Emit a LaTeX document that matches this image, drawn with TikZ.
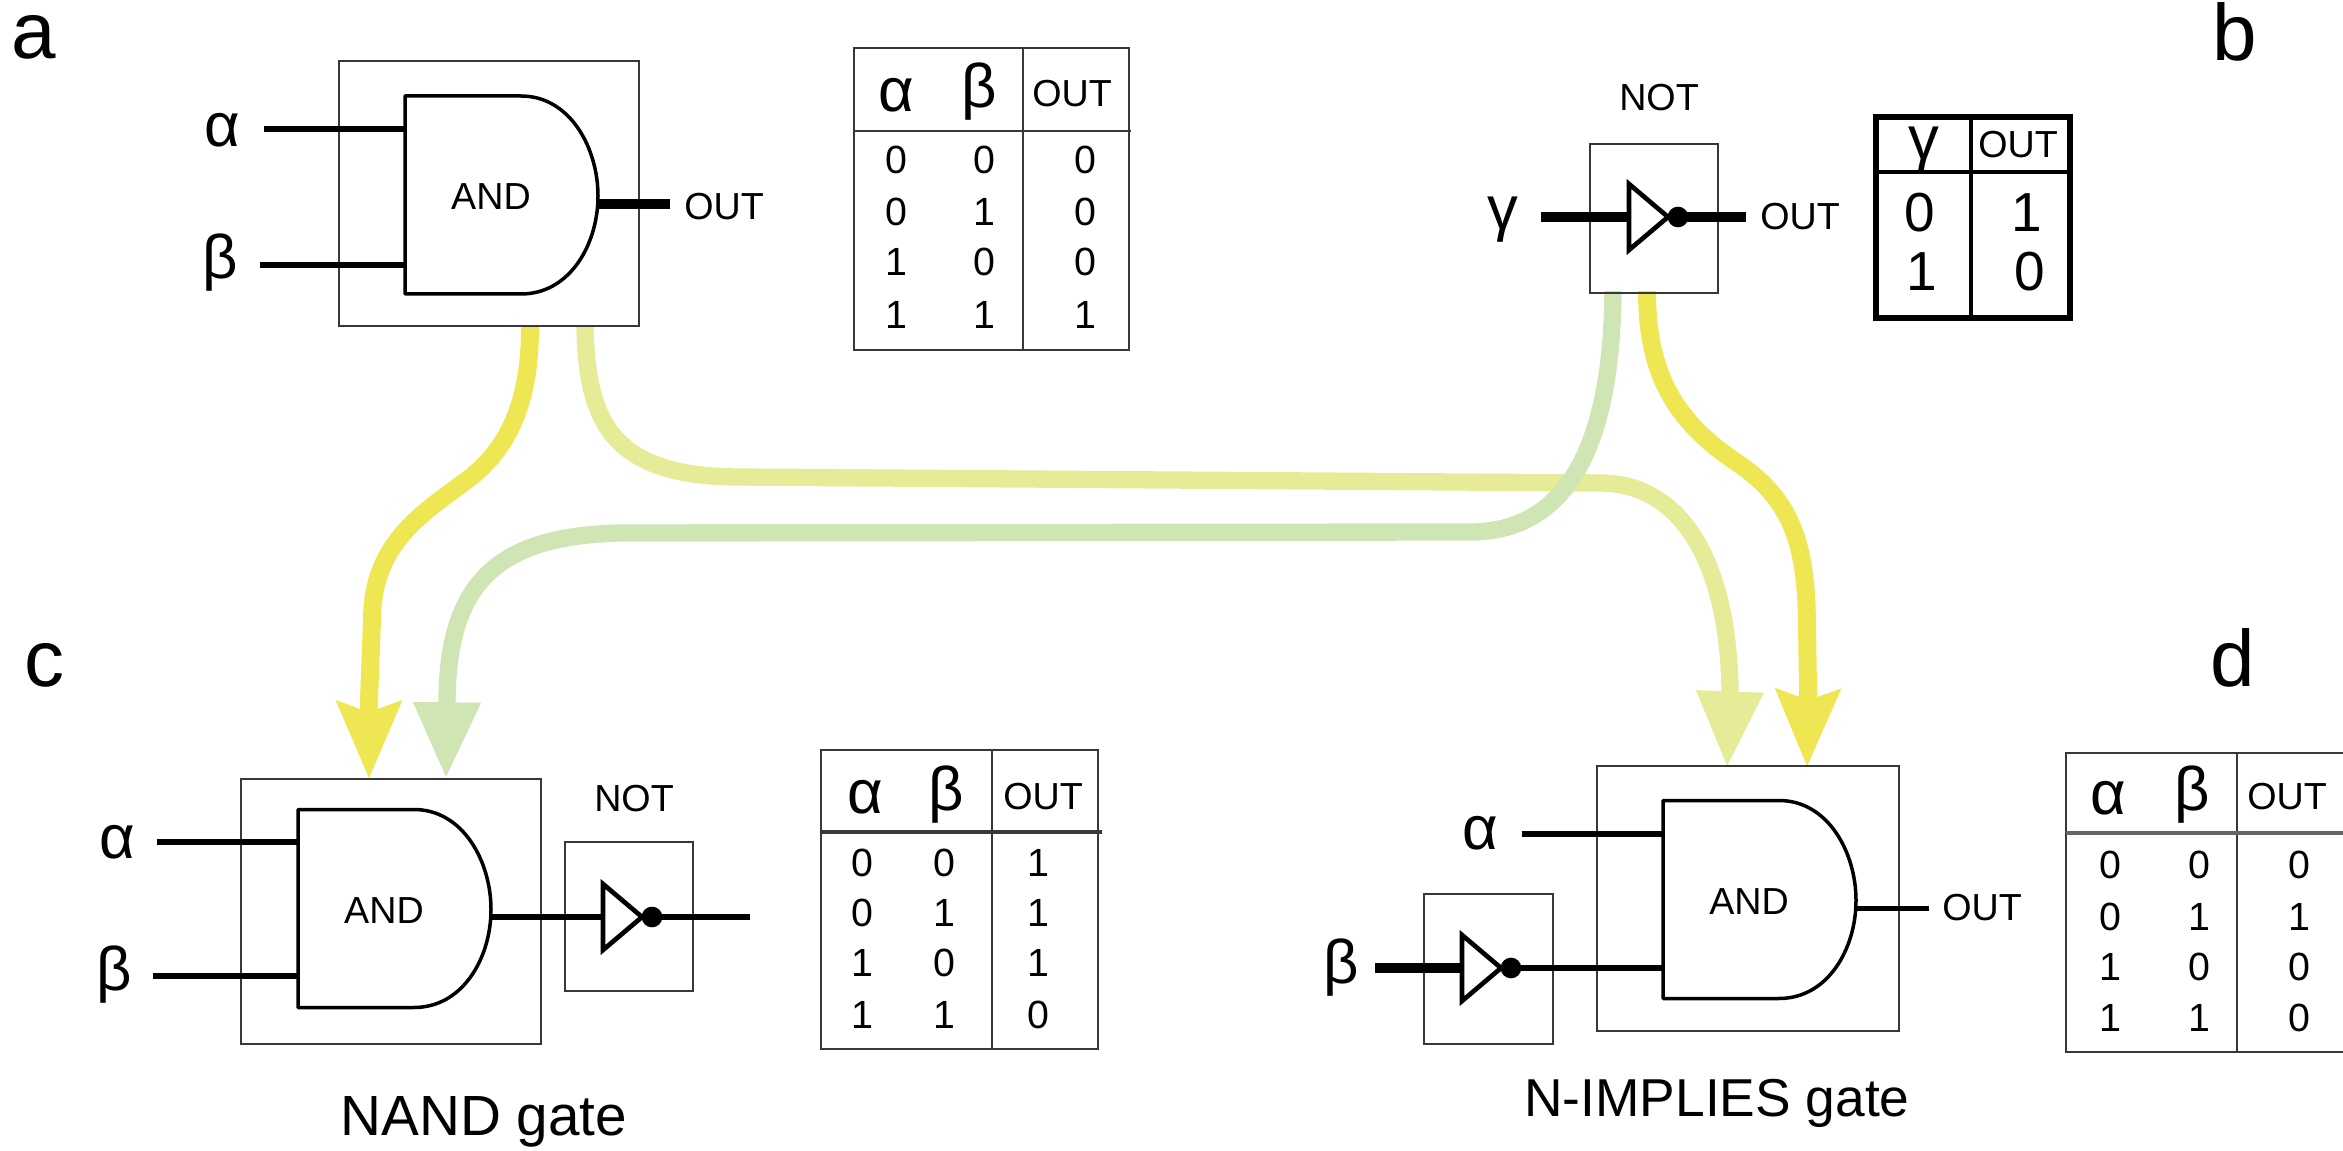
\documentclass[tikz,border=0pt]{standalone}
\usepackage{fontspec}
\setmainfont{Liberation Sans}
\usetikzlibrary{arrows.meta}
\definecolor{arrY}{HTML}{EFE654}
\definecolor{arrL}{HTML}{E5EB96}
\definecolor{arrG}{HTML}{CFE5B4}
\newcommand{\fs}[1]{\fontsize{#1}{#1}\selectfont}
\tikzset{
  boxline/.style={draw=black!78,line width=0.8pt},
  gatebox/.style={boxline,rectangle,inner sep=0pt,outer sep=0pt},
  gateline/.style={draw=black,line width=1.05pt,line join=round},
  notline/.style={draw=black,line width=1.4pt,line join=miter},
  wire/.style={draw=black,line width=2pt},
  heavywire/.style={draw=black,line width=2.8pt},
  thinwire/.style={draw=black,line width=1.6pt},
  ruleline/.style={boxline},
  tblb/.style={draw=black,line width=1.9pt},
  tblbin/.style={draw=black,line width=1.2pt},
  txt/.style={inner sep=0pt,outer sep=0pt},
  small/.style={txt,font=\fs{11.3}},
  greek/.style={txt,font=\fs{18.5}},
  digit/.style={txt,font=\fs{11.8}},
  bigdigit/.style={txt,font=\fs{16.5}},
  panel/.style={txt,font=\fs{24}},
  caption/.style={txt,font=\fs{#1}},
  arrowY/.style={draw=arrY,line width=5.4pt,-{Stealth[length=23pt,width=18.8pt,inset=3pt,color=arrY,fill=arrY]}},
  arrowL/.style={draw=arrL,line width=5.2pt,-{Triangle[length=23pt,width=18.8pt,color=arrL,fill=arrL]}},
  arrowG/.style={draw=arrG,line width=5.2pt,-{Triangle[length=23pt,width=18.8pt,color=arrG,fill=arrG]}},
  andgate/.pic={
    \draw[gateline] (0,-100) -- (116,-100) .. controls (165,-100) and (193,-48) .. (193,0)
      .. controls (193,48) and (165,98) .. (116,98) -- (0,98) -- cycle;
    \coordinate (-in1) at (0,-67);
    \coordinate (-in2) at (0,67);
    \coordinate (-out) at (192,8);
    \node[small] (-lbl) at (86,1) {AND};
  },
  notgate/.pic={
    \draw[notline] (0,-33) -- (39,0) -- (0,33) -- cycle;
    \fill[black] (49,0) circle[radius=3.1pt];
    \coordinate (-in) at (0,0);
    \coordinate (-out) at (49,0);
  },
}
\begin{document}
\begin{tikzpicture}[x=0.3pt,y=-0.3pt]
\useasboundingbox (0,0) rectangle (2343,1151);

% ---------- endpoints of the coloured connectors
\coordinate (sY1) at (530,327);
\coordinate (sL1) at (585,327);
\coordinate (sG1) at (1613,291);
\coordinate (sY2) at (1647,291);
\coordinate (tY1) at (369,779);
\coordinate (tG1) at (446,779);
\coordinate (tL1) at (1727,768);
\coordinate (tY2) at (1807,767);

% ---------- coloured connectors
\draw[arrowL] (sL1) .. controls (587,420) and (610,476) .. (737,477)
   -- (1600,483) .. controls (1680,483) and (1728,560) .. (1730,690) -- (tL1);
\draw[arrowY] (sY1) .. controls (530,400) and (510,450) .. (463,483)
   .. controls (420,515) and (372,545) .. (372,620) -- (369,700) -- (tY1);
\draw[arrowG] (sG1) .. controls (1612,400) and (1590,532) .. (1470,532)
   -- (620,533) .. controls (500,536) and (448,580) .. (447,700) -- (tG1);
\draw[arrowY] (sY2) .. controls (1647,370) and (1672,418) .. (1733,460)
   .. controls (1790,497) and (1806,540) .. (1807,623) -- (1808,690) -- (tY2);

% ---------- panel a
\node[gatebox,minimum width=90pt,minimum height=79.5pt] (boxA) at (489,193.5) {};
\pic (gA) at (405,196) {andgate};
\coordinate (inA1) at (264,129);
\coordinate (inA2) at (260,265);
\coordinate (outA) at (670,204);
\draw[wire] (inA1) -- (gA-in1 |- inA1);
\draw[wire] (inA2) -- (gA-in2 |- inA2);
\draw[heavywire] (gA-out) -- (gA-out -| outA);
\node[greek] (lA1) at (222,130) {α};
\node[greek] (lA2) at (220,263) {β};
\node[small] (lAo) at (724,207) {OUT};
\node[panel] (pa) at (34,37) {a};

\node[gatebox,minimum width=82.5pt,minimum height=90.6pt] (tblA) at (991.5,199) {};
\draw[ruleline] (1023,48) -- (1023,350);
\draw[ruleline] (854,131) -- (1131,131);
\node[greek] (tAa) at (896,95) {α};
\node[greek] (tAb) at (979,92) {β};
\node[small] (tAo) at (1072,94) {OUT};
\foreach \yy/\p/\q/\r [count=\i] in {160/0/0/0,212/0/1/0,262/1/0/0,315/1/1/1}{
  \node[digit] (tA\i a) at (896,\yy) {\p};
  \node[digit] (tA\i b) at (984,\yy) {\q};
  \node[digit] (tA\i c) at (1085,\yy) {\r};
}

% ---------- panel b
\node[gatebox,minimum width=38.4pt,minimum height=44.7pt] (boxB) at (1654,218.5) {};
\pic (nB) at (1629,217) {notgate};
\coordinate (inB) at (1541,217);
\coordinate (outB) at (1746,217);
\draw[heavywire] (inB) -- (nB-in);
\draw[heavywire] (nB-out) -- (outB);
\node[small] (lBn) at (1659,98) {NOT};
\node[greek] (lBg) at (1503,220) {γ};
\node[small] (lBo) at (1800,217) {OUT};
\node[panel] (pb) at (2235,32) {b};

\draw[tblb] (1876,117) rectangle (2070,318);
\draw[tblbin] (1971,117) -- (1971,318);
\draw[tblbin] (1876,172) -- (2070,172);
\node[greek] (tBg) at (1924,150) {γ};
\node[small] (tBo) at (2018,145) {OUT};
\node[bigdigit] (tB1a) at (1920,213) {0};
\node[bigdigit] (tB1b) at (2027,213) {1};
\node[bigdigit] (tB2a) at (1922,272) {1};
\node[bigdigit] (tB2b) at (2030,272) {0};

% ---------- panel c
\node[gatebox,minimum width=90pt,minimum height=79.5pt] (boxC) at (391,911.5) {};
\node[gatebox,minimum width=38.4pt,minimum height=44.7pt] (boxCn) at (629,916.5) {};
\pic (gC) at (298,909.5) {andgate};
\pic (nC) at (603,917) {notgate};
\coordinate (inC1) at (157,842);
\coordinate (inC2) at (153,976);
\coordinate (outC) at (750,917);
\draw[wire] (inC1) -- (gC-in1 |- inC1);
\draw[wire] (inC2) -- (gC-in2 |- inC2);
\draw[wire] (nC-in -| gC-out) -- (nC-in);
\draw[wire] (nC-out) -- (outC);
\node[greek] (lC1) at (117,842) {α};
\node[greek] (lC2) at (114,975) {β};
\node[small] (lCn) at (634,799) {NOT};
\node[panel] (pc) at (45,665) {c};
\node[caption=17] (capC) at (484,1122) {NAND gate};

\node[gatebox,minimum width=83.1pt,minimum height=89.7pt] (tblC) at (959.5,899.5) {};
\draw[ruleline] (992,750) -- (992,1049);
\draw[line width=1.1pt,draw=black!78] (821,832) -- (1102,832);
\node[greek] (tCa) at (865,797) {α};
\node[greek] (tCb) at (946,795) {β};
\node[small] (tCo) at (1043,797) {OUT};
\foreach \yy/\p/\q/\r [count=\i] in {863/0/0/1,913/0/1/1,963/1/0/1,1015/1/1/0}{
  \node[digit] (tC\i a) at (862,\yy) {\p};
  \node[digit] (tC\i b) at (944,\yy) {\q};
  \node[digit] (tC\i c) at (1038,\yy) {\r};
}

% ---------- panel d
\node[gatebox,minimum width=90.6pt,minimum height=79.5pt] (boxD) at (1748,898.5) {};
\node[gatebox,minimum width=38.7pt,minimum height=45pt] (boxDn) at (1488.5,969) {};
\pic (gD) at (1663,900.5) {andgate};
\pic (nD) at (1462,968) {notgate};
\coordinate (inD1) at (1522,834);
\coordinate (inD2) at (1375,968);
\coordinate (outD) at (1929,908);
\draw[wire] (inD1) -- (gD-in1 |- inD1);
\draw[heavywire] (inD2) -- (nD-in);
\draw[wire] (nD-out) -- (gD-in2 |- nD-out);
\draw[thinwire] (gD-out) -- (gD-out -| outD);
\node[greek] (lD1) at (1480,833) {α};
\node[greek] (lD2) at (1341,968) {β};
\node[small] (lDo) at (1982,908) {OUT};
\node[panel] (pd) at (2233,658) {d};
\node[caption=16] (capD) at (1717,1103) {N-IMPLIES gate};

\draw[ruleline] (2343,753) -- (2066,753) -- (2066,1052) -- (2343,1052);
\draw[ruleline] (2237,753) -- (2237,1052);
\draw[line width=1.1pt,draw=black!60] (2066,833) -- (2343,833);
\node[greek] (tDa) at (2108,798) {α};
\node[greek] (tDb) at (2192,795) {β};
\node[small] (tDo) at (2287,797) {OUT};
\foreach \yy/\p/\q/\r [count=\i] in {865/0/0/0,917/0/1/1,967/1/0/0,1018/1/1/0}{
  \node[digit] (tD\i a) at (2110,\yy) {\p};
  \node[digit] (tD\i b) at (2199,\yy) {\q};
  \node[digit] (tD\i c) at (2299,\yy) {\r};
}
\end{tikzpicture}
\end{document}
